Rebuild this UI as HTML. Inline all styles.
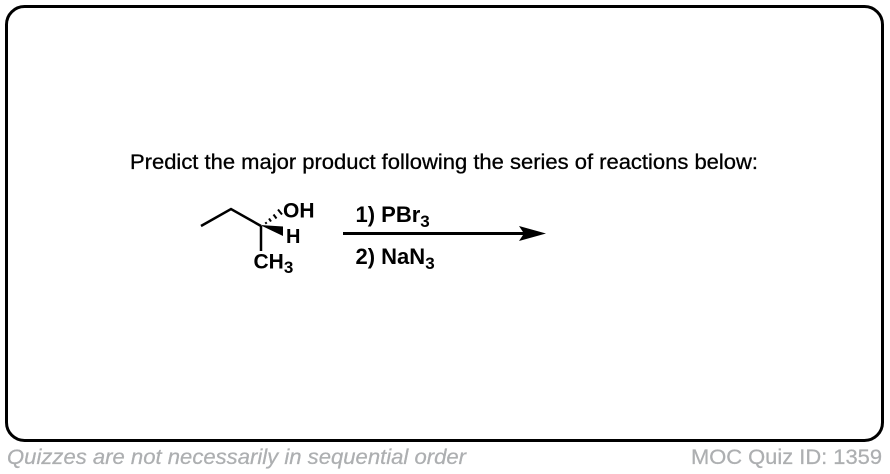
<!DOCTYPE html>
<html>
<head>
<meta charset="utf-8">
<style>
html,body{margin:0;padding:0;background:#fff;width:890px;height:474px;overflow:hidden}
svg{display:block}
text{font-family:"Liberation Sans",sans-serif}
</style>
</head>
<body>
<svg width="890" height="474" viewBox="0 0 890 474" xmlns="http://www.w3.org/2000/svg">
<rect x="6.5" y="6.5" width="876" height="434" rx="18" ry="18" fill="#fff" stroke="#000" stroke-width="3"/>
<text x="130" y="169" font-size="21.3" fill="#000" stroke="#000" stroke-width="0.3" textLength="628" lengthAdjust="spacingAndGlyphs">Predict the major product following the series of reactions below:</text>
<polyline points="201,226 231,209 261,226" fill="none" stroke="#000" stroke-width="2.5"/>
<line x1="261" y1="226" x2="261" y2="251" stroke="#000" stroke-width="2.5"/>
<polygon points="260,225 283,226.5 283,236" fill="#000"/>
<g stroke="#000" stroke-width="2">
<line x1="265.4" y1="222.2" x2="266.6" y2="223.8"/>
<line x1="269" y1="218.5" x2="271" y2="221.5"/>
<line x1="273.5" y1="214.5" x2="276.5" y2="218.5"/>
<line x1="278" y1="209.5" x2="282" y2="214.5"/>
</g>
<text x="283" y="217.5" font-size="21" font-weight="bold" fill="#000">OH</text>
<text x="286" y="243" font-size="20" font-weight="bold" fill="#000">H</text>
<text x="253.5" y="268.5" font-size="21" font-weight="bold" fill="#000">CH<tspan font-size="17" dy="4.5">3</tspan></text>
<text x="355.5" y="222" font-size="22" font-weight="bold" fill="#000">1) PBr<tspan font-size="17" dy="5">3</tspan></text>
<line x1="343" y1="233.5" x2="525" y2="233.5" stroke="#000" stroke-width="3"/>
<polygon points="546,233.5 519,226 524,233.5 519,241" fill="#000"/>
<text x="355.5" y="264" font-size="22" font-weight="bold" fill="#000">2) NaN<tspan font-size="17" dy="5">3</tspan></text>
<text x="7" y="464" font-size="21.3" font-style="italic" fill="#adafb1" stroke="#adafb1" stroke-width="0.25" textLength="459" lengthAdjust="spacingAndGlyphs">Quizzes are not necessarily in sequential order</text>
<text x="691" y="464" font-size="21.3" fill="#adafb1" stroke="#adafb1" stroke-width="0.25" textLength="191" lengthAdjust="spacingAndGlyphs">MOC Quiz ID: 1359</text>
</svg>
</body>
</html>
